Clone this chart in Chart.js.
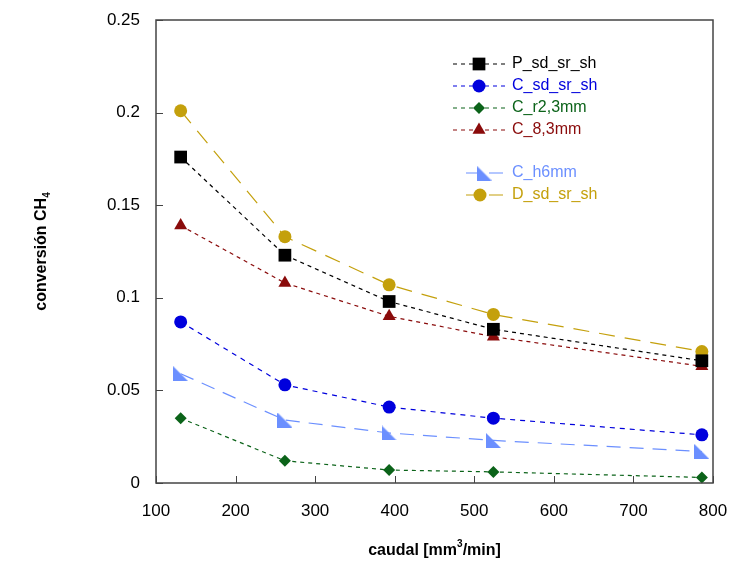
<!DOCTYPE html>
<html>
<head>
<meta charset="utf-8">
<script src="https://cdn.jsdelivr.net/npm/chart.js@4.4.1/dist/chart.umd.min.js"></script>
<style>
  html, body { margin: 0; padding: 0; background: #fff; }
  #wrap { width: 738px; height: 565px; }
</style>
</head>
<body>
<div id="wrap"><canvas id="chart" width="738" height="565"></canvas></div>
<script>
// caudal [mm3/min]
let caudal = [131, 262, 393, 524, 786];

// conversion CH4 per series
let P_sd_sr_sh = [0.176, 0.123, 0.098, 0.083, 0.066];
let C_sd_sr_sh = [0.087, 0.053, 0.041, 0.035, 0.026];
let C_r2_3mm   = [0.035, 0.012, 0.007, 0.006, 0.003];
let C_8_3mm    = [0.139, 0.108, 0.090, 0.079, 0.063];
let C_h6mm     = [0.059, 0.034, 0.027, 0.023, 0.017];
let D_sd_sr_sh = [0.201, 0.133, 0.107, 0.091, 0.071];

let xTicks = [100, 200, 300, 400, 500, 600, 700, 800];
let yTicks = [0, 0.05, 0.1, 0.15, 0.2, 0.25];

// right-triangle marker for C_h6mm
function cornerTriangle(color, size) {
    let c = document.createElement('canvas');
    c.width = size; c.height = size;
    let g = c.getContext('2d');
    g.fillStyle = color;
    g.beginPath();
    g.moveTo(0, 0);
    g.lineTo(0, size);
    g.lineTo(size, size);
    g.closePath();
    g.fill();
    return c;
}
let triImg = cornerTriangle('#6b8fff', 15);

function pts(ys) {
    return caudal.map((x, i) => ({ x: x, y: ys[i] }));
}

function series(label, ys, color, style, radius, dash) {
    return {
        label: label,
        data: pts(ys),
        borderColor: color,
        backgroundColor: color,
        pointBackgroundColor: color,
        pointBorderColor: color,
        pointStyle: style,
        pointRadius: radius,
        pointBorderWidth: 0,
        borderWidth: 1.2,
        borderDash: dash,
        tension: 0,
        clip: false
    };
}

let datasets = [
    series('P_sd_sr_sh', P_sd_sr_sh, '#000000', 'rect', 9, [4, 4]),
    series('C_sd_sr_sh', C_sd_sr_sh, '#0000dd', 'circle', 6.5, [5, 5]),
    series('C_r2,3mm', C_r2_3mm, '#0b6319', 'rectRot', 6, [4, 4]),
    series('C_8,3mm', C_8_3mm, '#8a0b0b', 'triangle', 7.5, [4, 4]),
    series('C_h6mm', C_h6mm, '#6b8fff', triImg, 7, [14, 9]),
    series('D_sd_sr_sh', D_sd_sr_sh, '#c4a00c', 'circle', 6.5, [16, 10])
];

// legend rows: dataset index, y, line start, marker x
let legendRows = [
    [0, 64, 453, 479],
    [1, 86, 453, 479],
    [2, 108, 453, 479],
    [3, 130, 453, 479],
    [4, 173, 466, 484],
    [5, 195, 466, 480]
];

const decor = {
    id: 'decor',
    afterDraw(chart) {
        let ctx = chart.ctx, a = chart.chartArea;
        let xs = chart.scales.x, ys = chart.scales.y;
        ctx.save();

        // frame
        ctx.strokeStyle = '#444';
        ctx.lineWidth = 1.5;
        ctx.setLineDash([]);
        ctx.strokeRect(a.left, a.top, a.right - a.left, a.bottom - a.top);

        // inward ticks
        ctx.lineWidth = 1;
        ctx.beginPath();
        xTicks.forEach(v => {
            let px = Math.round(xs.getPixelForValue(v)) + 0.5;
            ctx.moveTo(px, a.bottom);
            ctx.lineTo(px, a.bottom - 7);
        });
        yTicks.forEach(v => {
            let py = Math.round(ys.getPixelForValue(v)) + 0.5;
            ctx.moveTo(a.left, py);
            ctx.lineTo(a.left + 7, py);
        });
        ctx.stroke();

        // legend
        ctx.font = '16px "Liberation Sans", Arial, sans-serif';
        ctx.textBaseline = 'middle';
        ctx.textAlign = 'left';
        legendRows.forEach(r => {
            let ds = chart.data.datasets[r[0]];
            ctx.strokeStyle = ds.borderColor;
            ctx.lineWidth = 1.2;
            ctx.setLineDash(r[0] >= 4 ? [14, 9] : [4, 4]);
            ctx.beginPath();
            ctx.moveTo(r[2], r[1]);
            ctx.lineTo(506, r[1]);
            ctx.stroke();
            ctx.setLineDash([]);
            ctx.fillStyle = ds.borderColor;
            ctx.strokeStyle = ds.borderColor;
            Chart.helpers.drawPoint(ctx, {
                pointStyle: ds.pointStyle,
                radius: ds.pointRadius,
                rotation: 0,
                borderWidth: 0
            }, r[3], r[1]);
            ctx.fillText(ds.label, 512, r[1]);
        });

        // axis titles with sub/superscripts
        ctx.fillStyle = '#000';
        ctx.font = 'bold 16px "Liberation Sans", Arial, sans-serif';
        ctx.textBaseline = 'alphabetic';

        // x title
        let xt1 = 'caudal [mm', xt2 = '3', xt3 = '/min]';
        let w1 = ctx.measureText(xt1).width;
        ctx.font = 'bold 10px "Liberation Sans", Arial, sans-serif';
        let w2 = ctx.measureText(xt2).width;
        ctx.font = 'bold 16px "Liberation Sans", Arial, sans-serif';
        let w3 = ctx.measureText(xt3).width;
        let x0 = (a.left + a.right) / 2 - (w1 + w2 + w3) / 2;
        let yb = 555;
        ctx.fillText(xt1, x0, yb);
        ctx.font = 'bold 10px "Liberation Sans", Arial, sans-serif';
        ctx.fillText(xt2, x0 + w1, yb - 8);
        ctx.font = 'bold 16px "Liberation Sans", Arial, sans-serif';
        ctx.fillText(xt3, x0 + w1 + w2, yb);

        // y title
        ctx.translate(46, (a.top + a.bottom) / 2);
        ctx.rotate(-Math.PI / 2);
        let yt1 = 'conversión CH', yt2 = '4';
        let v1 = ctx.measureText(yt1).width;
        ctx.font = 'bold 10px "Liberation Sans", Arial, sans-serif';
        let v2 = ctx.measureText(yt2).width;
        let s0 = -(v1 + v2) / 2;
        ctx.font = 'bold 16px "Liberation Sans", Arial, sans-serif';
        ctx.fillText(yt1, s0, 0);
        ctx.font = 'bold 10px "Liberation Sans", Arial, sans-serif';
        ctx.fillText(yt2, s0 + v1, 4);

        ctx.restore();
    }
};

let ctx = document.getElementById('chart').getContext('2d');
let chart = new Chart(ctx, {
    type: 'line',
    data: { datasets: datasets },
    options: {
        responsive: false,
        animation: false,
        layout: { padding: { left: 0, top: 20, right: 25, bottom: 0 } },
        plugins: {
            legend: { display: false },
            tooltip: { enabled: false }
        },
        scales: {
            x: {
                type: 'linear',
                min: 100,
                max: 800,
                afterFit: function (s) {
                    s.height = 82;
                    s.paddingLeft = 0;
                    s.paddingRight = 0;
                },
                afterBuildTicks: function (s) { s.ticks = xTicks.map(v => ({ value: v })); },
                grid: { display: false, drawTicks: false },
                border: { display: false },
                ticks: {
                    color: '#000',
                    padding: 18,
                    maxRotation: 0,
                    font: { size: 17, family: '"Liberation Sans", Arial, sans-serif' }
                }
            },
            y: {
                type: 'linear',
                min: 0,
                max: 0.25,
                afterFit: function (s) {
                    s.width = 156;
                    s.paddingTop = 0;
                    s.paddingBottom = 0;
                },
                afterBuildTicks: function (s) { s.ticks = yTicks.map(v => ({ value: v })); },
                grid: { display: false, drawTicks: false },
                border: { display: false },
                ticks: {
                    color: '#000',
                    padding: 16,
                    font: { size: 17, family: '"Liberation Sans", Arial, sans-serif' },
                    callback: function (v) { return String(v); }
                }
            }
        }
    },
    plugins: [decor]
});
</script>
</body>
</html>
